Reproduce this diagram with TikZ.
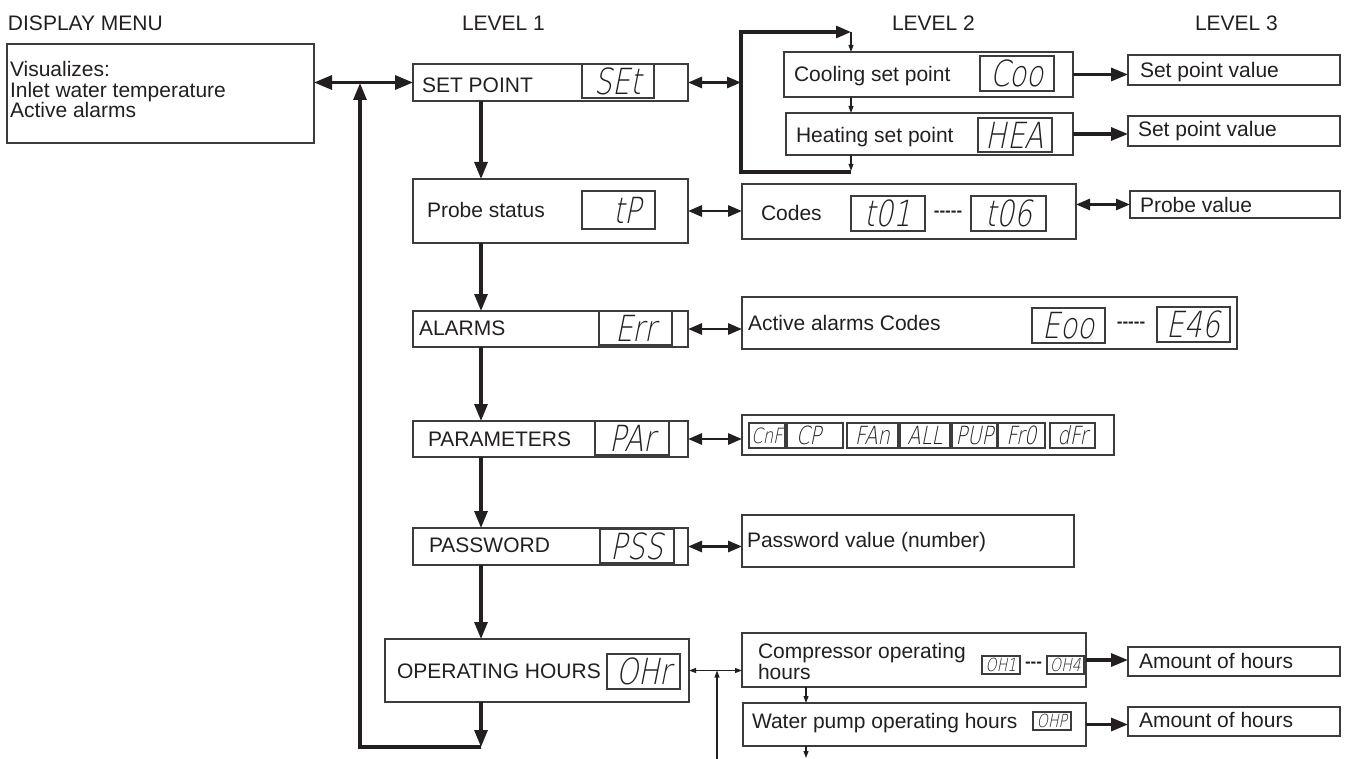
\documentclass[tikz,border=0pt]{standalone}
\usepackage{fontspec}
\setmainfont{Liberation Sans}
\newfontfamily\segfont[FakeSlant=0.2,FakeStretch=0.78]{DejaVu Sans ExtraLight}
\usetikzlibrary{arrows.meta,calc}
\definecolor{ink}{HTML}{231F20}
\definecolor{edge}{HTML}{3C3C3C}
\tikzset{
  box/.style={draw=edge, line width=1.3pt, inner sep=0pt, outer sep=0pt, anchor=north west},
  segbox/.style={box, text=ink},
  lbl/.style={anchor=base west, inner sep=0pt, outer sep=0pt, text=ink, font=\fontsize{21}{20}\selectfont},
  dashlbl/.style={anchor=center, inner sep=0pt, outer sep=0pt, text=ink, font=\bfseries\fontsize{17}{17}\selectfont},
  thk/.style={draw=ink, line width=3.1pt, -{Triangle[length=17pt,width=13pt]}},
  brk/.style={draw=ink, line width=3.1pt, -{Triangle[length=15pt,width=12pt]}},
  dbl/.style={draw=ink, line width=2.9pt, {Triangle[length=14pt,width=11pt]}-{Triangle[length=14pt,width=11pt]}},
  dblbig/.style={draw=ink, line width=3.2pt, {Triangle[length=18pt,width=14pt]}-{Triangle[length=18pt,width=14pt]}},
  thn/.style={draw=ink, line width=1.1pt, -{Triangle[length=7pt,width=5pt]}},
  dthn/.style={draw=ink, line width=1.1pt, {Triangle[length=7pt,width=5pt]}-{Triangle[length=7pt,width=5pt]}},
  segL/.style={font=\segfont\fontsize{36}{36}\selectfont},
  segM/.style={font=\segfont\fontsize{25}{25}\selectfont},
  segMs/.style={font=\segfont\fontsize{21}{21}\selectfont},
  segS/.style={font=\segfont\fontsize{18}{18}\selectfont},
}
\begin{document}
\begin{tikzpicture}[x=1pt,y=-1pt]
\useasboundingbox (0,0) rectangle (1346,759);

% headers
\node[lbl] (hdm) at (8,31) {DISPLAY MENU};
\node[lbl] (hl1) at (462,31) {LEVEL 1};
\node[lbl] (hl2) at (892,31) {LEVEL 2};
\node[lbl] (hl3) at (1195,31) {LEVEL 3};

% display menu
\node[box, minimum width=307pt, minimum height=99pt] (dm) at (7,44) {};
\node[lbl] (dm1) at (10,77) {Visualizes:};
\node[lbl] (dm2) at (10,98) {Inlet water temperature};
\node[lbl] (dm3) at (10,118) {Active alarms};

% level 1 boxes
\node[box, minimum width=275pt, minimum height=37pt] (sp) at (413,64) {};
\node[box, minimum width=275pt, minimum height=64pt] (ps) at (413,179) {};
\node[box, minimum width=275pt, minimum height=36pt] (al) at (413,311) {};
\node[box, minimum width=275pt, minimum height=36pt] (pa) at (413,421) {};
\node[box, minimum width=275pt, minimum height=37pt] (pw) at (413,528) {};
\node[box, minimum width=304pt, minimum height=63pt] (oh) at (385,639) {};

\node[lbl] (tsp) at (422,93) {SET POINT};
\node[lbl] (tps) at (427,218) {Probe status};
\node[lbl] (tal) at (419,335) {ALARMS};
\node[lbl] (tpa) at (428,446) {PARAMETERS};
\node[lbl] (tpw) at (429,552) {PASSWORD};
\node[lbl] (toh) at (397,678) {OPERATING HOURS};

\node[segbox, segL, minimum width=72pt, minimum height=34pt] (dSEt) at (582,64) {SEt};
\node[segbox, segL, minimum width=73pt, minimum height=38pt] (dtP) at (582,191) {\hphantom{0}tP};
\node[segbox, segL, minimum width=73pt, minimum height=34pt] (dErr) at (599,311) {Err};
\node[segbox, segL, minimum width=74pt, minimum height=34pt] (dPAr) at (595,421) {PAr};
\node[segbox, segL, minimum width=74pt, minimum height=34pt] (dPSS) at (600,529) {PSS};
\node[segbox, segL, minimum width=73pt, minimum height=35pt] (dOHr) at (607,654) {OHr};

% level 2 boxes
\node[box, minimum width=289pt, minimum height=45pt] (co) at (784,52) {};
\node[box, minimum width=287pt, minimum height=42pt] (he) at (786,113) {};
\node[box, minimum width=334pt, minimum height=55pt] (cd) at (742,184) {};
\node[box, minimum width=495pt, minimum height=52pt] (aa) at (742,297) {};
\node[box, minimum width=372pt, minimum height=40pt] (plist) at (742,415) {};
\node[box, minimum width=332pt, minimum height=52pt] (pv) at (742,515) {};
\node[box, minimum width=344pt, minimum height=54pt] (comp) at (742,633) {};
\node[box, minimum width=343pt, minimum height=43pt] (wp) at (743,703) {};

\node[lbl] (tco) at (794,82) {Cooling set point};
\node[lbl] (the) at (796,143) {Heating set point};
\node[lbl] (tcd) at (761,221) {Codes};
\node[lbl] (taa) at (748,330) {Active alarms Codes};
\node[lbl] (tpv) at (747,547) {Password value (number)};
\node[lbl] (tcomp1) at (758,658) {Compressor operating};
\node[lbl] (tcomp2) at (758,679) {hours};
\node[lbl] (twp) at (752,728) {Water pump operating hours};

\node[segbox, segL, minimum width=74pt, minimum height=35pt] (dCoo) at (980,56) {Coo};
\node[segbox, segL, minimum width=74pt, minimum height=34pt] (dHEA) at (978,118) {HEA};
\node[segbox, segL, minimum width=74pt, minimum height=35pt] (dt01) at (851,196) {t01};
\node[segbox, segL, minimum width=75pt, minimum height=35pt] (dt06) at (971,196) {t06};
\node[dashlbl] (dsh1) at ($(dt01.east)!0.5!(dt06.west)$) {-{}-{}-{}-{}-};
\node[segbox, segL, minimum width=73pt, minimum height=35pt] (dEoo) at (1032,308) {Eoo};
\node[segbox, segL, minimum width=73pt, minimum height=35pt] (dE46) at (1157,307) {E46};
\node[dashlbl] (dsh2) at ($(dEoo.east)!0.5!(dE46.west)$) {-{}-{}-{}-{}-};

\node[segbox, segMs, minimum width=36pt, minimum height=25pt] (pCnF) at (749,423) {CnF};
\node[segbox, segM, minimum width=56pt, minimum height=25pt] (pCP) at (787,423) {CP\hphantom{0}};
\node[segbox, segM, minimum width=51pt, minimum height=25pt] (pFAn) at (847,423) {FAn};
\node[segbox, segM, minimum width=50pt, minimum height=25pt] (pALL) at (900,423) {ALL};
\node[segbox, segM, minimum width=45pt, minimum height=25pt] (pPUP) at (952,423) {PUP};
\node[segbox, segM, minimum width=47pt, minimum height=25pt] (pFr0) at (998,423) {Fr0};
\node[segbox, segM, minimum width=45pt, minimum height=25pt] (pdFr) at (1050,423) {dFr};

\node[segbox, segS, minimum width=38pt, minimum height=18pt] (dOH1) at (982,656) {OH1};
\node[segbox, segS, minimum width=37pt, minimum height=18pt] (dOH4) at (1047,656) {OH4};
\node[dashlbl] (dsh3) at ($(dOH1.east)!0.5!(dOH4.west)$) {-{}-{}-};
\node[segbox, segS, minimum width=38pt, minimum height=18pt] (dOHP) at (1033,712) {OHP};

% level 3 boxes
\node[box, minimum width=212pt, minimum height=30pt] (sv1) at (1128,55) {};
\node[box, minimum width=212pt, minimum height=30pt] (sv2) at (1128,116) {};
\node[box, minimum width=210pt, minimum height=27pt] (pvb) at (1130,191) {};
\node[box, minimum width=212pt, minimum height=29pt] (ah1) at (1128,647) {};
\node[box, minimum width=212pt, minimum height=29pt] (ah2) at (1128,707) {};
\node[lbl] (tsv1) at (1140,78) {Set point value};
\node[lbl] (tsv2) at (1138,137) {Set point value};
\node[lbl] (tpvb) at (1140,213) {Probe value};
\node[lbl] (tah1) at (1139,668) {Amount of hours};
\node[lbl] (tah2) at (1139,727) {Amount of hours};

% helper coordinates
\coordinate (j) at (360,83);
\coordinate (vx) at (481,0);
\coordinate (bc) at (481,747);
\coordinate (brL) at (741,0);
\coordinate (brT) at (851,32);
\coordinate (brB) at (851,172);
\coordinate (tx2) at (806,0);
\coordinate (wpe) at (806,758);
\coordinate (ohb) at (717,759);

% display menu <-> set point, return loop
\draw[dblbig] (sp.west) -- (sp.west -| dm.east);
\draw[thk] (sp.south -| vx) -- (ps.north -| vx);
\draw[thk] (ps.south -| vx) -- (al.north -| vx);
\draw[thk] (al.south -| vx) -- (pa.north -| vx);
\draw[thk] (pa.south -| vx) -- (pw.north -| vx);
\draw[thk] (pw.south -| vx) -- (oh.north -| vx);
\draw[thk] (oh.south -| vx) -- (bc);
\draw[thk, line join=miter] (bc) -- (bc -| j) -- (j);

% set point bracket
\draw[dbl] (sp.east) -- (sp.east -| brL);
\draw[brk, line join=miter] (brB) -- (brB -| brL) -- (brT -| brL) -- (brT);
\draw[thn] (brT) -- (co.north -| brT);
\draw[thn] (co.south -| brT) -- (he.north -| brT);
\draw[thn, shorten >=1.2pt] (he.south -| brT) -- (brB);
\draw[thk] (co.east) -- (co.east -| sv1.west);
\draw[thk] (he.east) -- (he.east -| sv2.west);

% other level 1 -> level 2
\draw[dbl] (ps.east) -- (ps.east -| cd.west);
\draw[dbl] (pvb.west -| cd.east) -- (pvb.west);
\draw[dbl] (al.east) -- (al.east -| aa.west);
\draw[dbl] (pa.east) -- (pa.east -| plist.west);
\draw[dbl] (pw.east) -- (pw.east -| pv.west);

% operating hours
\draw[dthn] (oh.east) -- (oh.east -| comp.west);
\draw[thn] (ohb) -- (ohb |- oh.east);
\draw[thn] (comp.south -| tx2) -- (wp.north -| tx2);
\draw[thn] (wp.south -| tx2) -- (wpe);
\draw[thk] (comp.east) -- (comp.east -| ah1.west);
\draw[thk] (wp.east) -- (wp.east -| ah2.west);
\end{tikzpicture}
\end{document}
